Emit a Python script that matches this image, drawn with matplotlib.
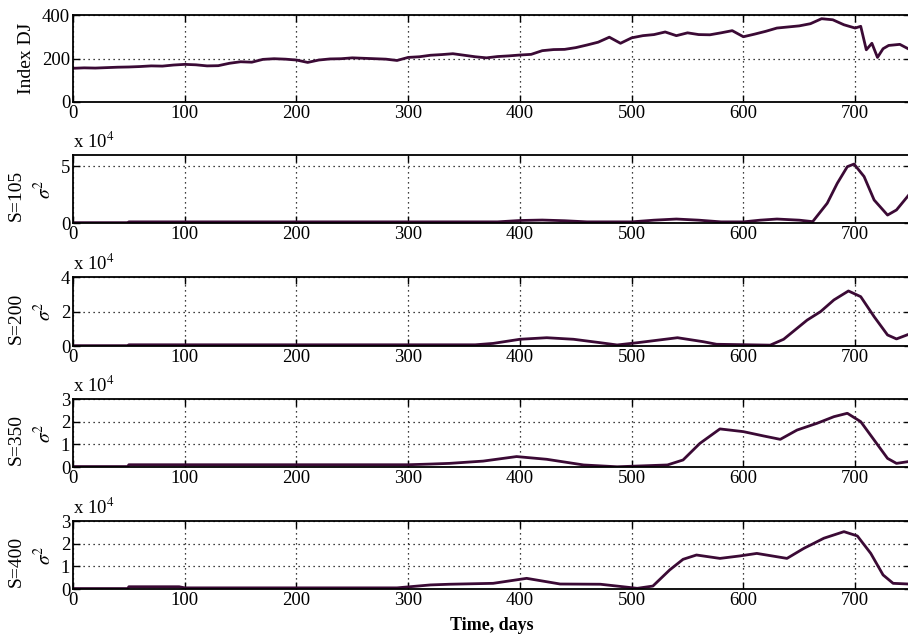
import matplotlib
matplotlib.use("Agg")
import matplotlib.pyplot as plt

plt.rcParams["font.family"] = ["Liberation Serif", "DejaVu Serif"]
plt.rcParams["mathtext.fontset"] = "stix"

# Dow Jones index
dj_days = [0, 10, 20, 30, 40, 50, 60, 70, 80, 90, 100, 110, 120, 130, 140, 150,
           160, 170, 180, 190, 200, 210, 220, 230, 240, 250, 260, 270, 280, 290,
           300, 310, 320, 330, 340, 350, 360, 370, 380, 390, 400, 410, 420, 430,
           440, 450, 460, 470, 480, 490, 500, 510, 520, 530, 540, 550, 560, 570,
           580, 590, 600, 610, 620, 630, 640, 650, 660, 670, 680, 690, 700, 705,
           710, 715, 720, 725, 730, 740, 750]
dj_values = [155, 157, 156, 158, 160, 161, 163, 166, 165, 170, 173, 171, 166, 167,
             178, 185, 183, 196, 199, 197, 193, 182, 193, 198, 199, 203, 201, 199,
             197, 191, 205, 208, 215, 218, 222, 215, 208, 203, 209, 212, 216, 219,
             236, 241, 242, 250, 262, 275, 298, 270, 295, 305, 310, 322, 305, 318,
             310, 309, 318, 328, 300, 312, 325, 340, 345, 350, 360, 383, 378, 355,
             340, 348, 240, 270, 205, 245, 260, 265, 238]

# variance for each window size S, in units of 1e4
s105_days = [0, 49, 50, 380, 400, 420, 440, 460, 500, 520, 540, 560, 580, 600, 615,
             630, 650, 662, 675, 684, 693, 699, 708, 717, 729, 737, 748]
s105_var = [0.03, 0.03, 0.1, 0.1, 0.22, 0.26, 0.2, 0.1, 0.1, 0.25, 0.35, 0.25, 0.1,
            0.1, 0.25, 0.35, 0.25, 0.12, 1.74, 3.5, 4.97, 5.2, 4.1, 2.03, 0.7, 1.15, 2.47]

s200_days = [0, 49, 50, 360, 376, 400, 424, 448, 472, 487, 505, 541, 564, 576, 624,
             636, 657, 669, 681, 694, 705, 717, 729, 737, 748]
s200_var = [0.02, 0.02, 0.07, 0.07, 0.15, 0.39, 0.48, 0.39, 0.19, 0.06, 0.19, 0.48,
            0.25, 0.1, 0.05, 0.39, 1.5, 1.99, 2.67, 3.19, 2.86, 1.7, 0.64, 0.41, 0.68]

s350_days = [0, 49, 50, 300, 320, 337, 367, 397, 424, 457, 487, 532, 546, 561, 579,
             600, 618, 633, 648, 666, 681, 693, 705, 717, 729, 737, 748]
s350_var = [0.02, 0.02, 0.1, 0.1, 0.13, 0.16, 0.26, 0.46, 0.34, 0.09, 0.01, 0.09,
            0.31, 1.04, 1.68, 1.56, 1.37, 1.22, 1.63, 1.93, 2.22, 2.37, 2.0, 1.19,
            0.38, 0.16, 0.24]

s400_days = [0, 49, 50, 95, 100, 290, 320, 337, 376, 406, 436, 472, 505, 519, 534,
             546, 558, 579, 597, 612, 639, 654, 672, 690, 702, 714, 725, 734, 748]
s400_var = [0.02, 0.02, 0.1, 0.1, 0.05, 0.05, 0.18, 0.21, 0.25, 0.47, 0.22, 0.21,
            0.03, 0.13, 0.84, 1.31, 1.5, 1.35, 1.46, 1.57, 1.35, 1.79, 2.24, 2.53,
            2.34, 1.57, 0.62, 0.25, 0.22]

x_ticks = [0, 100, 200, 300, 400, 500, 600, 700]
line_color = "#3b0a35"

W, H = 908, 638
left, right = 73, 911
# (top, bottom) of each panel in pixels
panel_px = [(15, 102), (155, 223), (277, 346), (399, 467), (521, 589)]

fig = plt.figure(figsize=(W / 100, H / 100), dpi=100)


def make_axes(top, bottom):
    ax = fig.add_axes([left / W, 1 - bottom / H, (right - left) / W, (bottom - top) / H])
    ax.set_xlim(0, 750)
    ax.set_xticks(x_ticks)
    ax.tick_params(direction="in", top=True, right=True, length=5, width=1,
                   labelsize=13.5, pad=2)
    ax.grid(True, linestyle=(0, (1, 3)), color="black", linewidth=0.9)
    for sp in ax.spines.values():
        sp.set_linewidth(1.3)
    return ax


ax = make_axes(*panel_px[0])
ax.plot(dj_days, dj_values, color=line_color, linewidth=2)
ax.set_ylim(0, 400)
ax.set_yticks([0, 200, 400])
ax.text(-0.055, 0.5, "Index DJ", transform=ax.transAxes, rotation=90,
        ha="center", va="center", fontsize=14)

panels = [
    ("S=105", s105_days, s105_var, 6, [0, 5]),
    ("S=200", s200_days, s200_var, 4, [0, 2, 4]),
    ("S=350", s350_days, s350_var, 3, [0, 1, 2, 3]),
    ("S=400", s400_days, s400_var, 3, [0, 1, 2, 3]),
]
for (label, days, var, ymax, yt), (top, bottom) in zip(panels, panel_px[1:]):
    ax = make_axes(top, bottom)
    ax.plot(days, var, color=line_color, linewidth=2)
    ax.set_ylim(0, ymax)
    ax.set_yticks(yt)
    ax.text(0.0, 1.04, r"x 10$^4$", transform=ax.transAxes, ha="left",
            va="bottom", fontsize=13.5)
    ax.text(-0.068, 0.4, label, transform=ax.transAxes, rotation=90,
            ha="center", va="center", fontsize=14)
    ax.text(-0.034, 0.5, r"$\sigma^2$", transform=ax.transAxes, rotation=90,
            ha="center", va="center", fontsize=14)

fig.text(492 / W, 1 - 625 / H, "Time, days", ha="center", va="center",
         fontsize=13, fontweight="bold")

fig.savefig("out.png", dpi=100)
